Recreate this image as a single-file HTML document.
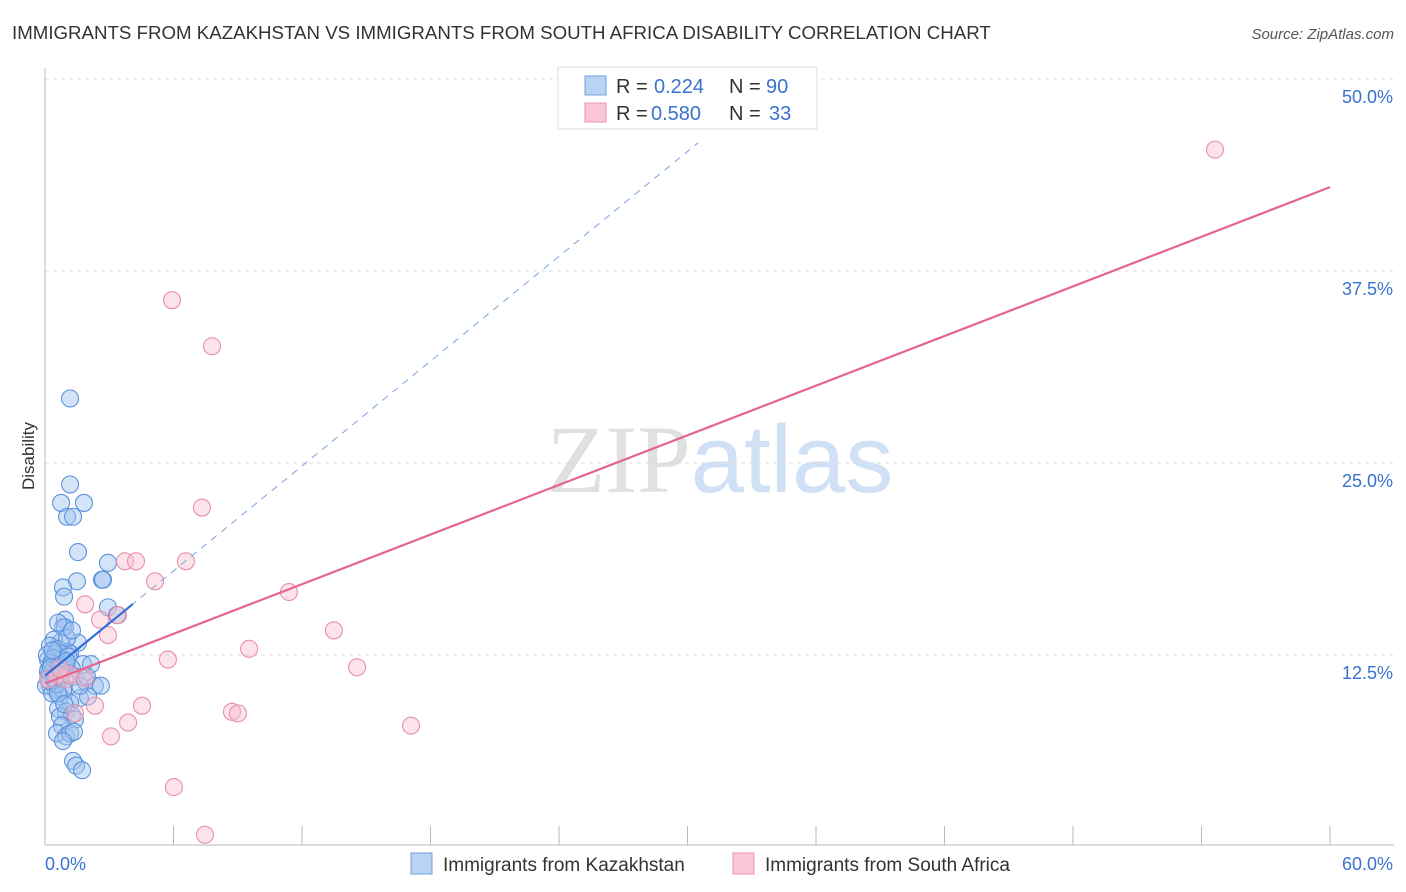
<!DOCTYPE html>
<html><head><meta charset="utf-8"><style>
body{margin:0;background:#fff;font-family:"Liberation Sans",sans-serif;}
svg{display:block}
</style></head><body>
<svg id="chart" width="1406" height="892" xmlns="http://www.w3.org/2000/svg" font-family="Liberation Sans, sans-serif">
<text x="12" y="39" font-size="18.7" fill="#333">IMMIGRANTS FROM KAZAKHSTAN VS IMMIGRANTS FROM SOUTH AFRICA DISABILITY CORRELATION CHART</text>
<text x="1394" y="39" font-size="15" fill="#555" text-anchor="end" font-style="italic">Source: ZipAtlas.com</text>
<text x="34" y="456" font-size="17" fill="#333" text-anchor="middle" transform="rotate(-90 34 456)">Disability</text>
<text x="720" y="492" font-size="96" text-anchor="middle"><tspan fill="#e0e0e0" font-family="Liberation Serif, serif">ZIP</tspan><tspan fill="#d0e0f5">atlas</tspan></text>
<g id="grid"></g><g id="marks"></g><g id="lines"></g>
<g>
<rect x="558" y="67" width="259" height="62" fill="#fff" stroke="#ddd"/>
<rect x="585" y="76" width="21" height="19" fill="#b9d3f5" stroke="#6fa0e0"/>
<rect x="585" y="103" width="21" height="19" fill="#f9c7d5" stroke="#eb96ae"/>
<text x="616" y="93" font-size="20" fill="#333">R =</text>
<text x="654" y="93" font-size="20" fill="#3a72d0">0.224</text>
<text x="729" y="93" font-size="20" fill="#333">N =</text>
<text x="766" y="93" font-size="20" fill="#3a72d0">90</text>
<text x="616" y="120" font-size="20" fill="#333">R =</text>
<text x="651" y="120" font-size="20" fill="#3a72d0">0.580</text>
<text x="729" y="120" font-size="20" fill="#333">N =</text>
<text x="769" y="120" font-size="20" fill="#3a72d0">33</text>
</g>
<g>
<rect x="411" y="853" width="21" height="21" fill="#b9d3f5" stroke="#6fa0e0"/>
<text x="443" y="871" font-size="19" fill="#333">Immigrants from Kazakhstan</text>
<rect x="733" y="853" width="21" height="21" fill="#f9c7d5" stroke="#eb96ae"/>
<text x="765" y="871" font-size="19" fill="#333">Immigrants from South Africa</text>
</g>
</svg>
<script>
const yTicks=[12.5,25,37.5,50];
const yTickLabels=["12.5%","25.0%","37.5%","50.0%"];
const xTickLabels=["0.0%","60.0%"];
const kazX=[1.17,1.17,0.75,1.82,1.03,1.31,1.54,2.94,2.66,2.71,1.49,0.84,0.89,0.93,0.84,0.93,2.94,3.36,0.61,1.54,0.70,0.42,0.23,1.07,0.47,1.17,0.79,0.14,0.33,0.61,1.77,2.15,0.93,1.26,0.14,0.51,0.70,1.40,1.87,0.23,0.47,0.89,2.33,2.61,0.70,1.63,2.01,1.17,0.61,0.98,1.26,0.70,1.40,0.79,0.56,0.98,1.17,1.35,0.84,1.31,1.45,1.73,0.09,0.23,0.42,0.61,1.03,1.26,0.05,0.33,0.75,0.98,1.63,1.96,0.30,0.50,0.20,0.40,0.65,0.85,1.10,0.35,0.55,0.15,0.45,0.75,1.00,0.28,0.60,0.90];
const kazY=[29.2,23.6,22.4,22.4,21.5,21.5,19.2,18.5,17.4,17.4,17.3,16.9,16.3,14.8,14.3,14.3,15.6,15.1,14.6,13.3,13.3,13.5,13.1,12.7,12.6,12.6,12.2,12.2,11.9,11.9,11.9,11.9,11.6,11.6,11.4,11.1,10.9,11.1,10.8,10.5,10.3,10.4,10.5,10.5,9.8,9.7,9.8,9.4,9.0,8.8,8.6,8.5,8.3,7.9,7.4,7.2,7.4,7.5,6.9,5.6,5.3,5.0,12.5,11.3,11.6,12.9,13.6,14.1,10.5,10.0,11.4,11.9,10.5,11.1,12.0,11.0,10.8,12.3,11.8,10.2,12.4,12.8,10.6,11.5,10.9,11.2,12.1,11.7,10.0,9.3];
const safX=[54.63,5.93,7.80,7.33,3.74,4.25,6.58,5.14,11.39,1.87,2.57,3.41,2.94,13.49,9.53,5.74,14.57,0.56,0.93,1.17,1.87,0.14,2.33,4.53,8.73,9.01,3.88,17.09,3.08,6.02,7.47,1.40,0.70];
const safY=[45.4,35.6,32.6,22.1,18.6,18.6,18.6,17.3,16.6,15.8,14.8,15.1,13.8,14.1,12.9,12.2,11.7,11.2,10.9,11.2,11.0,10.9,9.2,9.2,8.8,8.7,8.1,7.9,7.2,3.9,0.8,8.7,11.6];
const ns="http://www.w3.org/2000/svg";
const X0=45,X1=1330,Y0=847,PX=192/12.5;
const sx=v=>X0+(v/60)*(X1-X0), sy=v=>Y0-v*PX;
function mk(t,a,p){const e=document.createElementNS(ns,t);for(const k in a)e.setAttribute(k,a[k]);p.appendChild(e);return e;}
const grid=document.getElementById('grid'),marks=document.getElementById('marks'),lines=document.getElementById('lines');
yTicks.forEach((v,i)=>{
 const l=mk('line',{x1:X0,x2:1394,y1:sy(v),y2:sy(v),stroke:'#ddd','stroke-dasharray':'4,4'},grid);
 
 
 const t=mk('text',{x:1393,y:sy(v)+24,'font-size':18,fill:'#3a72d0','text-anchor':'end'},grid);t.textContent=yTickLabels[i];
 
 
});
const ax=mk('line',{x1:X0,x2:X0,y1:68,y2:Y0-2,stroke:'#bbb'},grid);


const bx=mk('line',{x1:X0,x2:1394,y1:Y0-2,y2:Y0-2,stroke:'#bbb'},grid);


for(let i=1;i<=10;i++){const tk=mk('line',{x1:sx(i*6),x2:sx(i*6),y1:826,y2:845,stroke:'#bbb'},grid);
 
 }
[[0,45,'start'],[60,1393,'end']].forEach((d,i)=>{const t=mk('text',{x:d[1],y:870,'font-size':18,fill:'#3a72d0','text-anchor':d[2]},grid);t.textContent=xTickLabels[i];
 
 });
kazX.forEach((v,i)=>{const c=mk('circle',{cx:sx(v),cy:sy(kazY[i]),r:8.5,fill:'rgba(160,196,240,0.45)',stroke:'#5b92dc','stroke-width':1.1},marks);
 
 });
safX.forEach((v,i)=>{const c=mk('circle',{cx:sx(v),cy:sy(safY[i]),r:8.5,fill:'rgba(248,190,206,0.45)',stroke:'#e890a9','stroke-width':1.1},marks);
 
 });
function fit(xs,ys){const n=xs.length,mx=xs.reduce((a,b)=>a+b)/n,my=ys.reduce((a,b)=>a+b)/n;let sxy=0,sxx=0;xs.forEach((x,i)=>{sxy+=(x-mx)*(ys[i]-my);sxx+=(x-mx)**2});const b=sxy/sxx;return[my-b*mx,b];}
const [ka,kb]=fit(kazX,kazY),[sa,sb]=fit(safX,safY);
const kd=mk('line',{x1:sx(4),y1:sy(ka+kb*4),x2:sx(30.5),y2:sy(ka+kb*30.5),stroke:'#7aa3dc','stroke-dasharray':'7,6','stroke-width':1},lines);


const kl=mk('line',{x1:sx(0),y1:sy(ka),x2:sx(4.1),y2:sy(ka+kb*4.1),stroke:'#2f6fd6','stroke-width':2.2},lines);


const sl=mk('line',{x1:sx(0),y1:sy(sa),x2:sx(60),y2:sy(sa+sb*60),stroke:'#e4648e','stroke-width':2.2},lines);


</script>
</body></html>
